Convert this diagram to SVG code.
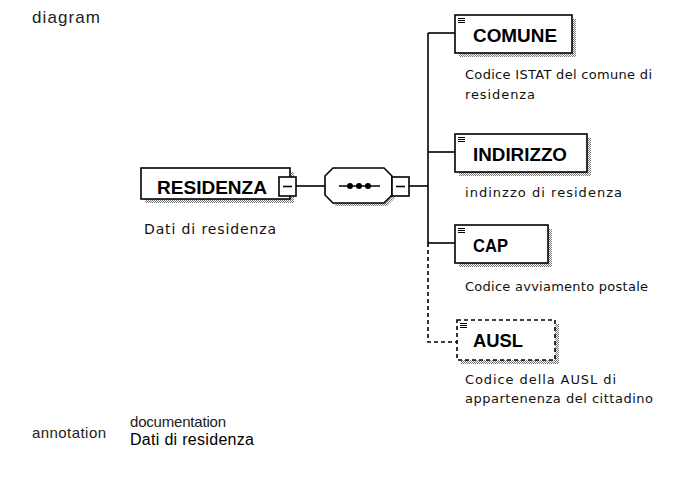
<svg xmlns="http://www.w3.org/2000/svg" width="693" height="477" viewBox="0 0 693 477">
<defs>
<pattern id="dither" width="2" height="2" patternUnits="userSpaceOnUse"><rect width="2" height="2" fill="#ffffff"/><rect width="1" height="1" fill="#777777"/><rect x="1" y="1" width="1" height="1" fill="#777777"/></pattern>
</defs>
<style>
.box{fill:#fff;stroke:#000;stroke-width:1.6}
.dbox{fill:#fff;stroke:#000;stroke-width:1.6;stroke-dasharray:4 3}
.shadow{fill:url(#dither)}
.lbl{font-family:"Liberation Sans",Arial,sans-serif;font-weight:bold;font-size:19px;fill:#000}
.desc{font-family:"DejaVu Sans","Liberation Sans",sans-serif;font-size:13px;fill:#111}
.hdr{font-family:"Liberation Sans",Arial,sans-serif;font-size:15px;fill:#222}
.doc{font-family:"Liberation Sans",Arial,sans-serif;font-size:16px;fill:#000}
.ln{fill:none;stroke:#000;stroke-width:1.6}
.dln{fill:none;stroke:#000;stroke-width:1.6;stroke-dasharray:4 3}
.icon{stroke:#000;stroke-width:1}
</style>
<rect width="693" height="477" fill="#fff"/>
<text class="hdr" x="32" y="23" textLength="68" style="font-size:17px">diagram</text>

<g id="connectors">
<path class="ln" d="M296,186 H326"/>
<path class="ln" d="M409,186 H428"/>
<path class="ln" d="M428,33 V243"/>
<path class="dln" d="M428,243 V342 H457"/>
<path class="ln" d="M428,33 H455"/>
<path class="ln" d="M428,152 H455"/>
<path class="ln" d="M428,243 H455"/>
</g>

<g id="RESIDENZA">
<rect class="shadow" x="145" y="172" width="149" height="31"/>
<rect class="box" x="141" y="168" width="149" height="31"/>
<text class="lbl" x="157" y="194" textLength="110" lengthAdjust="spacingAndGlyphs">RESIDENZA</text>
<rect class="box" x="279" y="177" width="17" height="19"/>
<path class="ln" d="M283,186.5 H292"/>
<text class="desc" x="144" y="234" textLength="132" style="font-size:14px">Dati di residenza</text>
</g>

<g id="sequence">
<path class="shadow" d="M336,171 H387 L395,179 V198 L387,206 H336 L328,198 V179 Z"/>
<path class="box" d="M333,168 H384 L392,176 V195 L384,203 H333 L325,195 V176 Z"/>
<path class="ln" d="M339,186 H380"/>
<circle cx="350" cy="186" r="3"/>
<circle cx="359" cy="186" r="3"/>
<circle cx="368" cy="186" r="3"/>
<rect class="box" x="392" y="177" width="17" height="19"/>
<path class="ln" d="M396,186.5 H405"/>
</g>

<g id="COMUNE">
<rect class="shadow" x="459" y="19" width="117" height="38"/>
<rect class="box" x="455" y="15" width="117" height="38"/>
<path class="icon" d="M458,18.5 h7 M458,20.5 h7 M458,22.5 h7"/>
<text class="lbl" x="473" y="42" textLength="84" lengthAdjust="spacingAndGlyphs">COMUNE</text>
<text class="desc" x="465" y="79" textLength="187">Codice ISTAT del comune di</text>
<text class="desc" x="465" y="99" textLength="70">residenza</text>
</g>

<g id="INDIRIZZO">
<rect class="shadow" x="459" y="138" width="132" height="38"/>
<rect class="box" x="455" y="134" width="132" height="38"/>
<path class="icon" d="M458,137.5 h7 M458,139.5 h7 M458,141.5 h7"/>
<text class="lbl" x="473" y="161" textLength="94" lengthAdjust="spacingAndGlyphs">INDIRIZZO</text>
<text class="desc" x="465" y="197" textLength="157">indinzzo di residenza</text>
</g>

<g id="CAP">
<rect class="shadow" x="459" y="229" width="93" height="38"/>
<rect class="box" x="455" y="225" width="93" height="38"/>
<path class="icon" d="M458,228.5 h7 M458,230.5 h7 M458,232.5 h7"/>
<text class="lbl" x="473" y="252" textLength="35" lengthAdjust="spacingAndGlyphs">CAP</text>
<text class="desc" x="465" y="291" textLength="183">Codice avviamento postale</text>
</g>

<g id="AUSL">
<rect class="shadow" x="461" y="324" width="98" height="40"/>
<rect class="dbox" x="457" y="320" width="98" height="40"/>
<path class="icon" d="M460,323.5 h7 M460,325.5 h7 M460,327.5 h7"/>
<text class="lbl" x="473" y="347" textLength="50" lengthAdjust="spacingAndGlyphs">AUSL</text>
<text class="desc" x="465" y="384" textLength="151">Codice della AUSL di</text>
<text class="desc" x="465" y="403" textLength="188">appartenenza del cittadino</text>
</g>

<text class="hdr" x="32" y="438" textLength="74">annotation</text>
<text class="hdr" x="130" y="427" textLength="96">documentation</text>
<text class="doc" x="130" y="445" textLength="124">Dati di residenza</text>
</svg>
